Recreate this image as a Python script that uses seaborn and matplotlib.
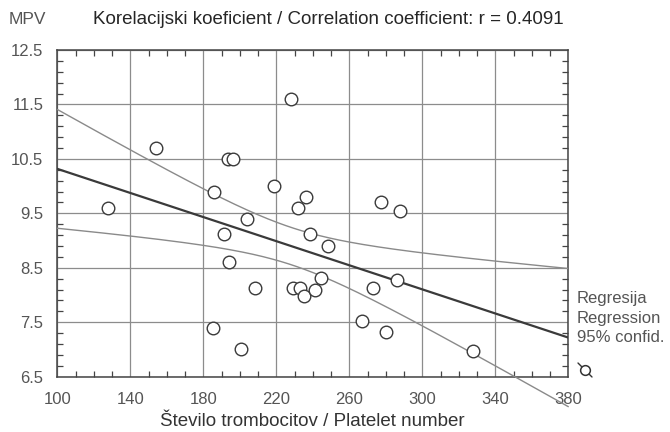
import numpy as np
import pandas as pd
import seaborn as sns
import matplotlib.pyplot as plt
from matplotlib.lines import Line2D

# ---- data ----
platelets = [128, 154, 193.5, 196.5, 186, 219, 228, 232, 236.5, 277.5, 288,
             204, 191.5, 194, 208.5, 229, 233, 235, 185.5, 200.5, 238.5,
             248.5, 241, 244.5, 273, 286, 267, 280, 328]
mpv = [9.6, 10.7, 10.5, 10.5, 9.9, 10.0, 11.6, 9.6, 9.8, 9.7, 9.54,
       9.4, 9.12, 8.6, 8.12, 8.12, 8.12, 7.99, 7.4, 7.0, 9.12,
       8.9, 8.1, 8.31, 8.13, 8.27, 7.52, 7.32, 6.98]
x_ticks = [100, 140, 180, 220, 260, 300, 340, 380]
y_ticks = [6.5, 7.5, 8.5, 9.5, 10.5, 11.5, 12.5]
title = "Korelacijski koeficient / Correlation coefficient: r = 0.4091"
y_name = "MPV"
x_name = "Število trombocitov / Platelet number"
legend_lines = ["Regresija", "Regression", "95% confid."]
BAND_MULT = 1.66  # band multiplier matching the drawn confidence curves

df = pd.DataFrame({"x": platelets, "y": mpv})

sns.set_theme(style="white")
plt.rcParams['font.family'] = ['Liberation Sans', 'DejaVu Sans']

fig = plt.figure(figsize=(6.7, 4.32), dpi=100)
fig.patch.set_facecolor("white")
ax = fig.add_axes([57.3 / 670, 1 - 376.7 / 432, 511 / 670, 326.7 / 432])

# regression & confidence band of the mean
x = df["x"].to_numpy()
y = df["y"].to_numpy()
n = len(x)
b, a = np.polyfit(x, y, 1)
resid = y - (a + b * x)
s = np.sqrt(np.sum(resid ** 2) / (n - 2))
sxx = np.sum((x - x.mean()) ** 2)
xg = np.linspace(x_ticks[0], x_ticks[-1], 200)
yg = a + b * xg
hw = BAND_MULT * s * np.sqrt(1 / n + (xg - x.mean()) ** 2 / sxx)
lines = pd.DataFrame({"x": xg, "fit": yg, "lo": yg - hw, "hi": yg + hw})

sns.lineplot(data=lines, x="x", y="hi", ax=ax, color="#8a8a8a", lw=1.0, zorder=3)
sns.lineplot(data=lines, x="x", y="lo", ax=ax, color="#8a8a8a", lw=1.0, zorder=3,
             clip_on=False)
sns.lineplot(data=lines, x="x", y="fit", ax=ax, color="#3a3a3a", lw=1.6, zorder=3)

sns.scatterplot(data=df, x="x", y="y", ax=ax, marker="o", s=82,
                facecolor="white", edgecolor="#3a3a3a", linewidth=1.0, zorder=4)

ax.set_xlim(x_ticks[0], x_ticks[-1])
ax.set_ylim(y_ticks[0], y_ticks[-1])
ax.set_xticks(x_ticks)
ax.set_yticks(y_ticks)
ax.set_xticklabels([str(v) for v in x_ticks])
ax.set_yticklabels([f"{v:.1f}" for v in y_ticks])
ax.set_xticks(np.arange(x_ticks[0], x_ticks[-1] + 1, 10), minor=True)
ax.set_yticks(np.arange(y_ticks[0], y_ticks[-1] + 0.01, 0.2), minor=True)
ax.tick_params(which="major", length=0, labelsize=12, labelcolor="#555555")
ax.tick_params(axis="x", which="major", pad=11)
ax.tick_params(axis="y", which="major", pad=10)
ax.tick_params(which="minor", direction="in", length=4, width=0.9, color="#444444",
               top=True, bottom=True, left=True, right=True)
ax.grid(True, which="major", color="#8c8c8c", lw=0.9)
for sp in ax.spines.values():
    sp.set_color("#444444")
    sp.set_linewidth(1.1)
ax.set_xlabel(x_name, fontsize=13.5, color="#333333", labelpad=4)
ax.set_ylabel("")

fig.text(9 / 670, 1 - 20 / 432, y_name, fontsize=12.5, color="#555555", va="center")
fig.text(93 / 670, 1 - 20 / 432, title, fontsize=13.5, color="#262626", va="center")
for i, t in enumerate(legend_lines):
    fig.text(577 / 670, 1 - (298 + 20 * i) / 432, t, fontsize=12,
             color="#555555", va="center")

# small point symbol in the legend
fig.add_artist(Line2D([578 / 670, 592 / 670], [1 - 363 / 432, 1 - 377 / 432],
                      transform=fig.transFigure, color="#333333", lw=1.0))
fig.add_artist(Line2D([585 / 670], [1 - 370 / 432], transform=fig.transFigure,
                      marker="o", markersize=7, markerfacecolor="white",
                      markeredgecolor="#333333", markeredgewidth=1.1, lw=0))

fig.savefig("out.png", dpi=100, facecolor="white")
